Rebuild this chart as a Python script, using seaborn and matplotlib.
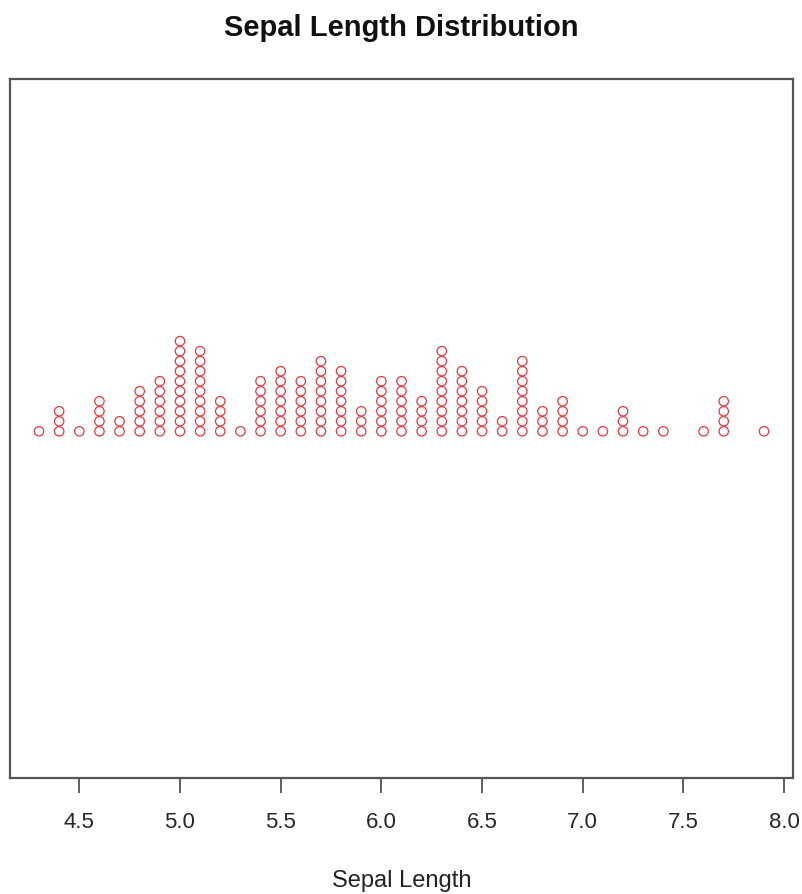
import numpy as np
import pandas as pd
import matplotlib
matplotlib.use("Agg")
import matplotlib.pyplot as plt
import seaborn as sns

# Iris sepal length values and their frequencies
lengths = [4.3, 4.4, 4.5, 4.6, 4.7, 4.8, 4.9, 5.0, 5.1, 5.2, 5.3, 5.4, 5.5, 5.6,
           5.7, 5.8, 5.9, 6.0, 6.1, 6.2, 6.3, 6.4, 6.5, 6.6, 6.7, 6.8, 6.9, 7.0,
           7.1, 7.2, 7.3, 7.4, 7.6, 7.7, 7.9]
counts = [1, 3, 1, 4, 2, 5, 6, 10, 9, 4, 1, 6, 7, 6,
          8, 7, 3, 6, 6, 4, 9, 7, 5, 2, 8, 3, 4, 1,
          1, 3, 1, 1, 1, 4, 1]
tick_values = [4.5, 5.0, 5.5, 6.0, 6.5, 7.0, 7.5, 8.0]

rows = []
for v, c in zip(lengths, counts):
    for k in range(c):
        rows.append({"Sepal Length": v, "stack": k})
df = pd.DataFrame(rows)
base = 0.496
step = 0.01433
df["y"] = base + df["stack"] * step

sns.set_style("white")
plt.rcParams['font.family'] = ['Liberation Sans', 'DejaVu Sans']

fig = plt.figure(figsize=(8.03, 8.95), dpi=100)
ax = fig.add_axes([10 / 803, 1 - 779 / 895, 783 / 803, 699 / 895])

sns.scatterplot(data=df, x="Sepal Length", y="y", ax=ax, marker="o",
                s=46, facecolors="none", edgecolor="#e23a40", linewidth=0.9,
                legend=False)

ax.set_xlim(4.156, 8.044)
ax.set_ylim(0, 1)
ax.set_yticks([])
ax.set_xticks(tick_values)
ax.set_xticklabels([f"{t:.1f}" for t in tick_values], fontsize=16, color="#262626")
ax.tick_params(axis="x", direction="out", length=10.5, width=1.1, color="#333333",
               pad=13, bottom=True)
ax.set_ylabel("")
ax.set_xlabel("")
for s in ax.spines.values():
    s.set_color("#555555")
    s.set_linewidth(1.6)
    s.set_visible(True)

fig.text(0.5, 1 - 887 / 895, "Sepal Length", ha="center", va="baseline",
         fontsize=17, color="#222222")
fig.text(0.5, 1 - 36 / 895, "Sepal Length Distribution", ha="center", va="baseline",
         fontsize=21, fontweight="bold", color="#111111")

fig.savefig("out.png", dpi=100, facecolor="white")
